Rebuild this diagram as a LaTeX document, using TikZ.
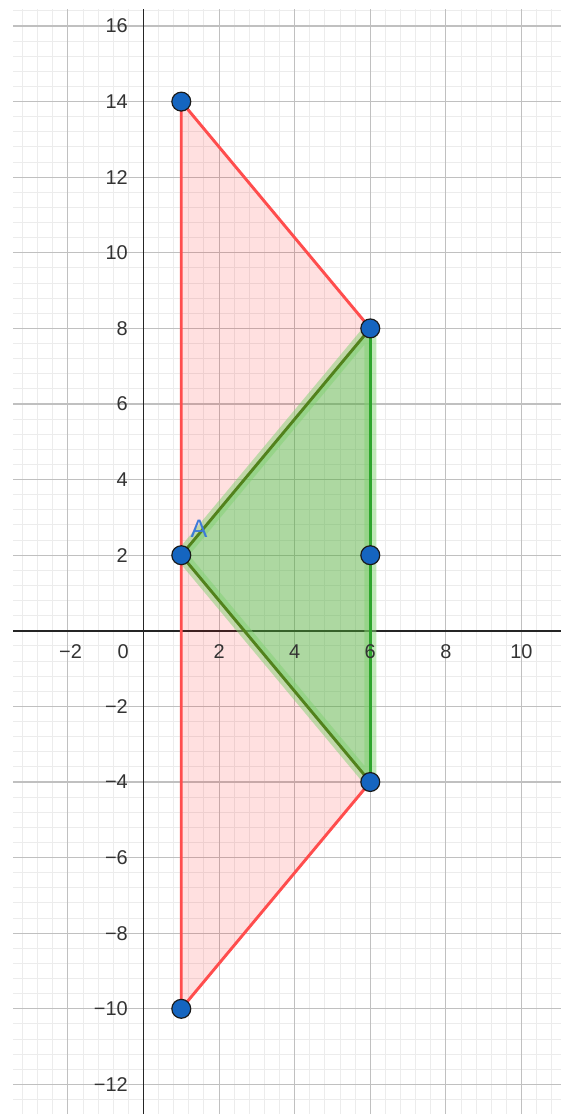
\documentclass[tikz,border=0pt]{standalone}
\usepackage{fontspec}
\setmainfont{Liberation Sans}
\definecolor{minorc}{RGB}{236,236,236}
\definecolor{majorc}{RGB}{192,192,192}
\definecolor{axisc}{RGB}{37,37,37}
\definecolor{labc}{RGB}{51,51,51}
\definecolor{redc}{RGB}{255,77,77}
\definecolor{pinkc}{RGB}{255,0,0}
\definecolor{greenfillc}{RGB}{40,205,60}
\definecolor{haloc}{RGB}{130,210,115}
\definecolor{dkgreenc}{RGB}{82,130,28}
\definecolor{brgreenc}{RGB}{45,165,45}
\definecolor{ptc}{RGB}{21,101,192}
\definecolor{ptedge}{RGB}{26,26,26}
\definecolor{alabc}{RGB}{60,122,216}
\begin{document}
\begin{tikzpicture}[x=1cm,y=1cm,
  minorgrid/.style={draw=minorc, line width=0.75pt},
  majorgrid/.style={draw=majorc, line width=0.8pt},
  axisline/.style={draw=axisc, line width=1.1pt},
  redfill/.style={fill=pinkc, fill opacity=0.12},
  greenfill/.style={fill=greenfillc, fill opacity=0.38},
  halo/.style={draw=haloc, draw opacity=0.5, line width=9pt, line join=round},
  redline/.style={draw=redc, line width=2.2pt, line join=round},
  dkgreen/.style={draw=dkgreenc, line width=2.2pt, line join=round},
  brgreen/.style={draw=brgreenc, line width=2.2pt},
  pt/.style={circle, fill=ptc, draw=ptedge, line width=0.9pt, minimum size=0.5cm, inner sep=0pt},
  ylab/.style={anchor=east, text=labc, font=\fontsize{15}{17}\selectfont, inner sep=0pt},
  xlab/.style={anchor=center, text=labc, font=\fontsize{15}{17}\selectfont, inner sep=0pt},
  alab/.style={text=alabc, font=\fontsize{19}{21}\selectfont, inner sep=0pt}
]
\useasboundingbox (-3.796,-12.783) rectangle (11.045,16.688);
\fill[white] (-3.796,-12.783) rectangle (11.045,16.688);
% minor grid
\foreach \i in {-8,...,27} \draw[minorgrid] (\i*0.4,-12.783) -- (\i*0.4,16.45);
\foreach \j in {-31,...,41} \draw[minorgrid] (-3.452,\j*0.4) -- (11.045,\j*0.4);
% major grid
\foreach \x in {-2,0,...,10} \draw[majorgrid] (\x,-12.783) -- (\x,16.45);
\foreach \y in {-12,-10,...,16} \draw[majorgrid] (-3.452,\y) -- (11.045,\y);
% axes
\coordinate (xl) at (-3.452,0);
\coordinate (xr) at (11.045,0);
\coordinate (yt) at (0,16.45);
\coordinate (yb) at (0,-12.783);
\draw[axisline] (xl) -- (xr);
\draw[axisline] (yb) -- (yt);
% polygon vertices
\coordinate (P1) at (1,14);
\coordinate (P2) at (6,8);
\coordinate (P3) at (6,-4);
\coordinate (P4) at (1,-10);
\coordinate (PA) at (1,2);
\coordinate (P5) at (6,2);
% fills
\fill[redfill] (P1) -- (P2) -- (P3) -- (P4) -- cycle;
\fill[greenfill] (PA) -- (P2) -- (P3) -- cycle;
\draw[halo] (PA) -- (P2) -- (P3) -- cycle;
% edges
\draw[redline] (P3) -- (P4) -- (P1) -- (P2);
\draw[brgreen] (P2) -- (P3);
\draw[dkgreen] (P2) -- (PA) -- (P3);
% labels
\foreach \y in {16,14,12,10,8,6,4,2} \node[ylab] (ly\y) at (-0.41,\y) {\y};
\foreach \y in {2,4,6,8,10,12} \node[ylab] (lym\y) at (-0.41,-\y) {−\y};
\node[xlab] (lxm2) at (-1.93,-0.553) {−2};
\node[xlab] (lx0) at (-0.54,-0.553) {0};
\foreach \x in {2,4,6,8,10} \node[xlab] (lx\x) at (\x,-0.553) {\x};
% points
\node[pt] (n1) at (P1) {};
\node[pt] (n2) at (P2) {};
\node[pt] (n3) at (P3) {};
\node[pt] (n4) at (P4) {};
\node[pt] (nA) at (PA) {};
\node[pt] (n5) at (P5) {};
\node[alab] (lA) at (1.468,2.693) {A};
\end{tikzpicture}
\end{document}
